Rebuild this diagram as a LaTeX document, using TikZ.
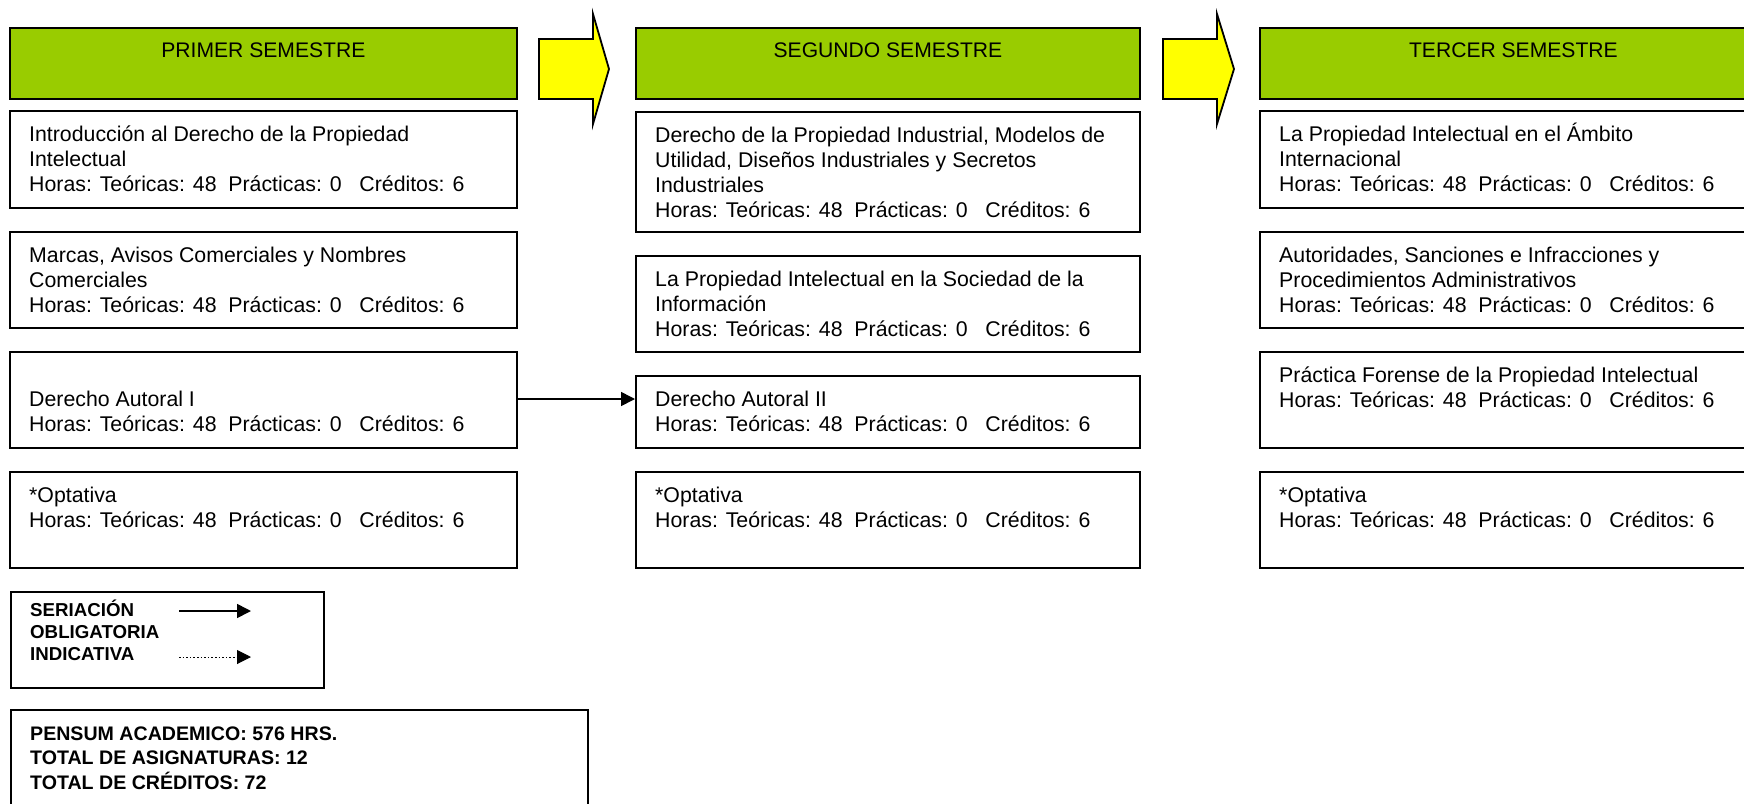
\documentclass[tikz,border=0pt]{standalone}
\usepackage{fontspec}
\setmainfont{Liberation Sans}
\usetikzlibrary{arrows.meta}
\definecolor{hdrgreen}{HTML}{99CC00}
\definecolor{arrowyellow}{HTML}{FFFF00}
\newcommand\tstrut{\rule{0pt}{22pt}}
\newcommand\lstrut{\rule{0pt}{20pt}}
\newcommand\hrs{Horas: Teóricas: 48\ \ Prácticas: 0\ \ \ Créditos: 6}
\tikzset{
  box/.style={draw=black, line width=1.8pt, rectangle, inner sep=0pt, anchor=north west},
  hdr/.style={box, fill=hdrgreen},
  txt/.style={anchor=north west, inner sep=0pt, align=left, font=\fontsize{21.3}{25}\selectfont},
  htxt/.style={anchor=north, inner sep=0pt, font=\fontsize{21.1}{25}\selectfont},
  legtxt/.style={anchor=north west, inner sep=0pt, align=left, font=\fontsize{18.7}{22}\selectfont\bfseries},
  tottxt/.style={anchor=north west, inner sep=0pt, align=left, font=\fontsize{19.6}{24.5}\selectfont\bfseries},
  blockarrow/.style={draw=black, line width=1.8pt, fill=arrowyellow, line join=miter},
  seri/.style={line width=1.6pt, -{Triangle[length=14pt,width=14pt]}},
}
\begin{document}
\begin{tikzpicture}[x=1pt,y=-1pt]
\useasboundingbox (0,0) rectangle (1744,803);
% headers
\node[hdr, minimum width=507pt, minimum height=71pt] (h1) at (9,27) {};
\node[hdr, minimum width=504pt, minimum height=71pt] (h2) at (635,27) {};
\node[hdr, minimum width=507pt, minimum height=71pt] (h3) at (1259,27) {};
\node[htxt] at ([yshift=-8.3pt]h1.north) {\tstrut PRIMER SEMESTRE};
\node[htxt] at ([yshift=-8.3pt]h2.north) {\tstrut SEGUNDO SEMESTRE};
\node[htxt] at ([yshift=-8.3pt]h3.north) {\tstrut TERCER SEMESTRE};
% block arrows
\draw[blockarrow] (539,39) -- (593,39) -- (593,14) -- (609,69) -- (593,124) -- (593,99) -- (539,99) -- cycle;
\draw[blockarrow] (1163,39) -- (1217,39) -- (1217,14) -- (1234,69) -- (1217,124) -- (1217,99) -- (1163,99) -- cycle;
% column 1
\node[box, minimum width=507pt, minimum height=97pt] (c1a) at (9,110) {};
\node[box, minimum width=507pt, minimum height=96pt] (c1b) at (9,231) {};
\node[box, minimum width=507pt, minimum height=96pt] (c1c) at (9,351) {};
\node[box, minimum width=507pt, minimum height=96pt] (c1d) at (9,471) {};
\node[txt] at ([xshift=20pt,yshift=-9pt]c1a.north west) {\tstrut Introducción al Derecho de la Propiedad\\Intelectual\\\hrs};
\node[txt] at ([xshift=20pt,yshift=-9pt]c1b.north west) {\tstrut Marcas, Avisos Comerciales y Nombres\\Comerciales\\\hrs};
\node[txt] at ([xshift=20pt,yshift=-33pt]c1c.north west) {\tstrut Derecho Autoral I\\\hrs};
\node[txt] at ([xshift=20pt,yshift=-9pt]c1d.north west) {\tstrut *Optativa\\\hrs};
% column 2
\node[box, minimum width=504pt, minimum height=120pt] (c2a) at (635,111) {};
\node[box, minimum width=504pt, minimum height=96pt] (c2b) at (635,255) {};
\node[box, minimum width=504pt, minimum height=72pt] (c2c) at (635,375) {};
\node[box, minimum width=504pt, minimum height=96pt] (c2d) at (635,471) {};
\node[txt] at ([xshift=20pt,yshift=-9pt]c2a.north west) {\tstrut Derecho de la Propiedad Industrial, Modelos de\\Utilidad, Diseños Industriales y Secretos\\Industriales\\\hrs};
\node[txt] at ([xshift=20pt,yshift=-9pt]c2b.north west) {\tstrut La Propiedad Intelectual en la Sociedad de la\\Información\\\hrs};
\node[txt] at ([xshift=20pt,yshift=-9pt]c2c.north west) {\tstrut Derecho Autoral II\\\hrs};
\node[txt] at ([xshift=20pt,yshift=-9pt]c2d.north west) {\tstrut *Optativa\\\hrs};
% column 3
\node[box, minimum width=507pt, minimum height=97pt] (c3a) at (1259,110) {};
\node[box, minimum width=507pt, minimum height=96pt] (c3b) at (1259,231) {};
\node[box, minimum width=507pt, minimum height=96pt] (c3c) at (1259,351) {};
\node[box, minimum width=507pt, minimum height=96pt] (c3d) at (1259,471) {};
\node[txt] at ([xshift=20pt,yshift=-9pt]c3a.north west) {\tstrut La Propiedad Intelectual en el Ámbito\\Internacional\\\hrs};
\node[txt] at ([xshift=20pt,yshift=-9pt]c3b.north west) {\tstrut Autoridades, Sanciones e Infracciones y\\Procedimientos Administrativos\\\hrs};
\node[txt] at ([xshift=20pt,yshift=-9pt]c3c.north west) {\tstrut Práctica Forense de la Propiedad Intelectual\\\hrs};
\node[txt] at ([xshift=20pt,yshift=-9pt]c3d.north west) {\tstrut *Optativa\\\hrs};
% seriation connector
\draw[seri] (c1c.east |- 0,399) -- (c2c.west |- 0,399);
% legend
\node[box, minimum width=313pt, minimum height=96pt] (leg) at (10,591) {};
\node[legtxt] (legt) at ([xshift=20pt,yshift=-5.5pt]leg.north west) {\lstrut SERIACIÓN\\OBLIGATORIA\\INDICATIVA};
\coordinate (ls1) at (179,611);
\coordinate (ls2) at (251,611);
\coordinate (ld1) at (179,657);
\coordinate (ld2) at (251,657);
\draw[seri] (ls1) -- (ls2);
\draw[seri, dotted, line width=1pt] (ld1) -- (ld2);
% totals
\node[box, minimum width=577pt, minimum height=120pt] (tot) at (10,709) {};
\node[tottxt] at ([xshift=20pt,yshift=-9pt]tot.north west) {\tstrut PENSUM ACADEMICO: 576 HRS.\\TOTAL DE ASIGNATURAS: 12\\TOTAL DE CRÉDITOS: 72};
\end{tikzpicture}
\end{document}
